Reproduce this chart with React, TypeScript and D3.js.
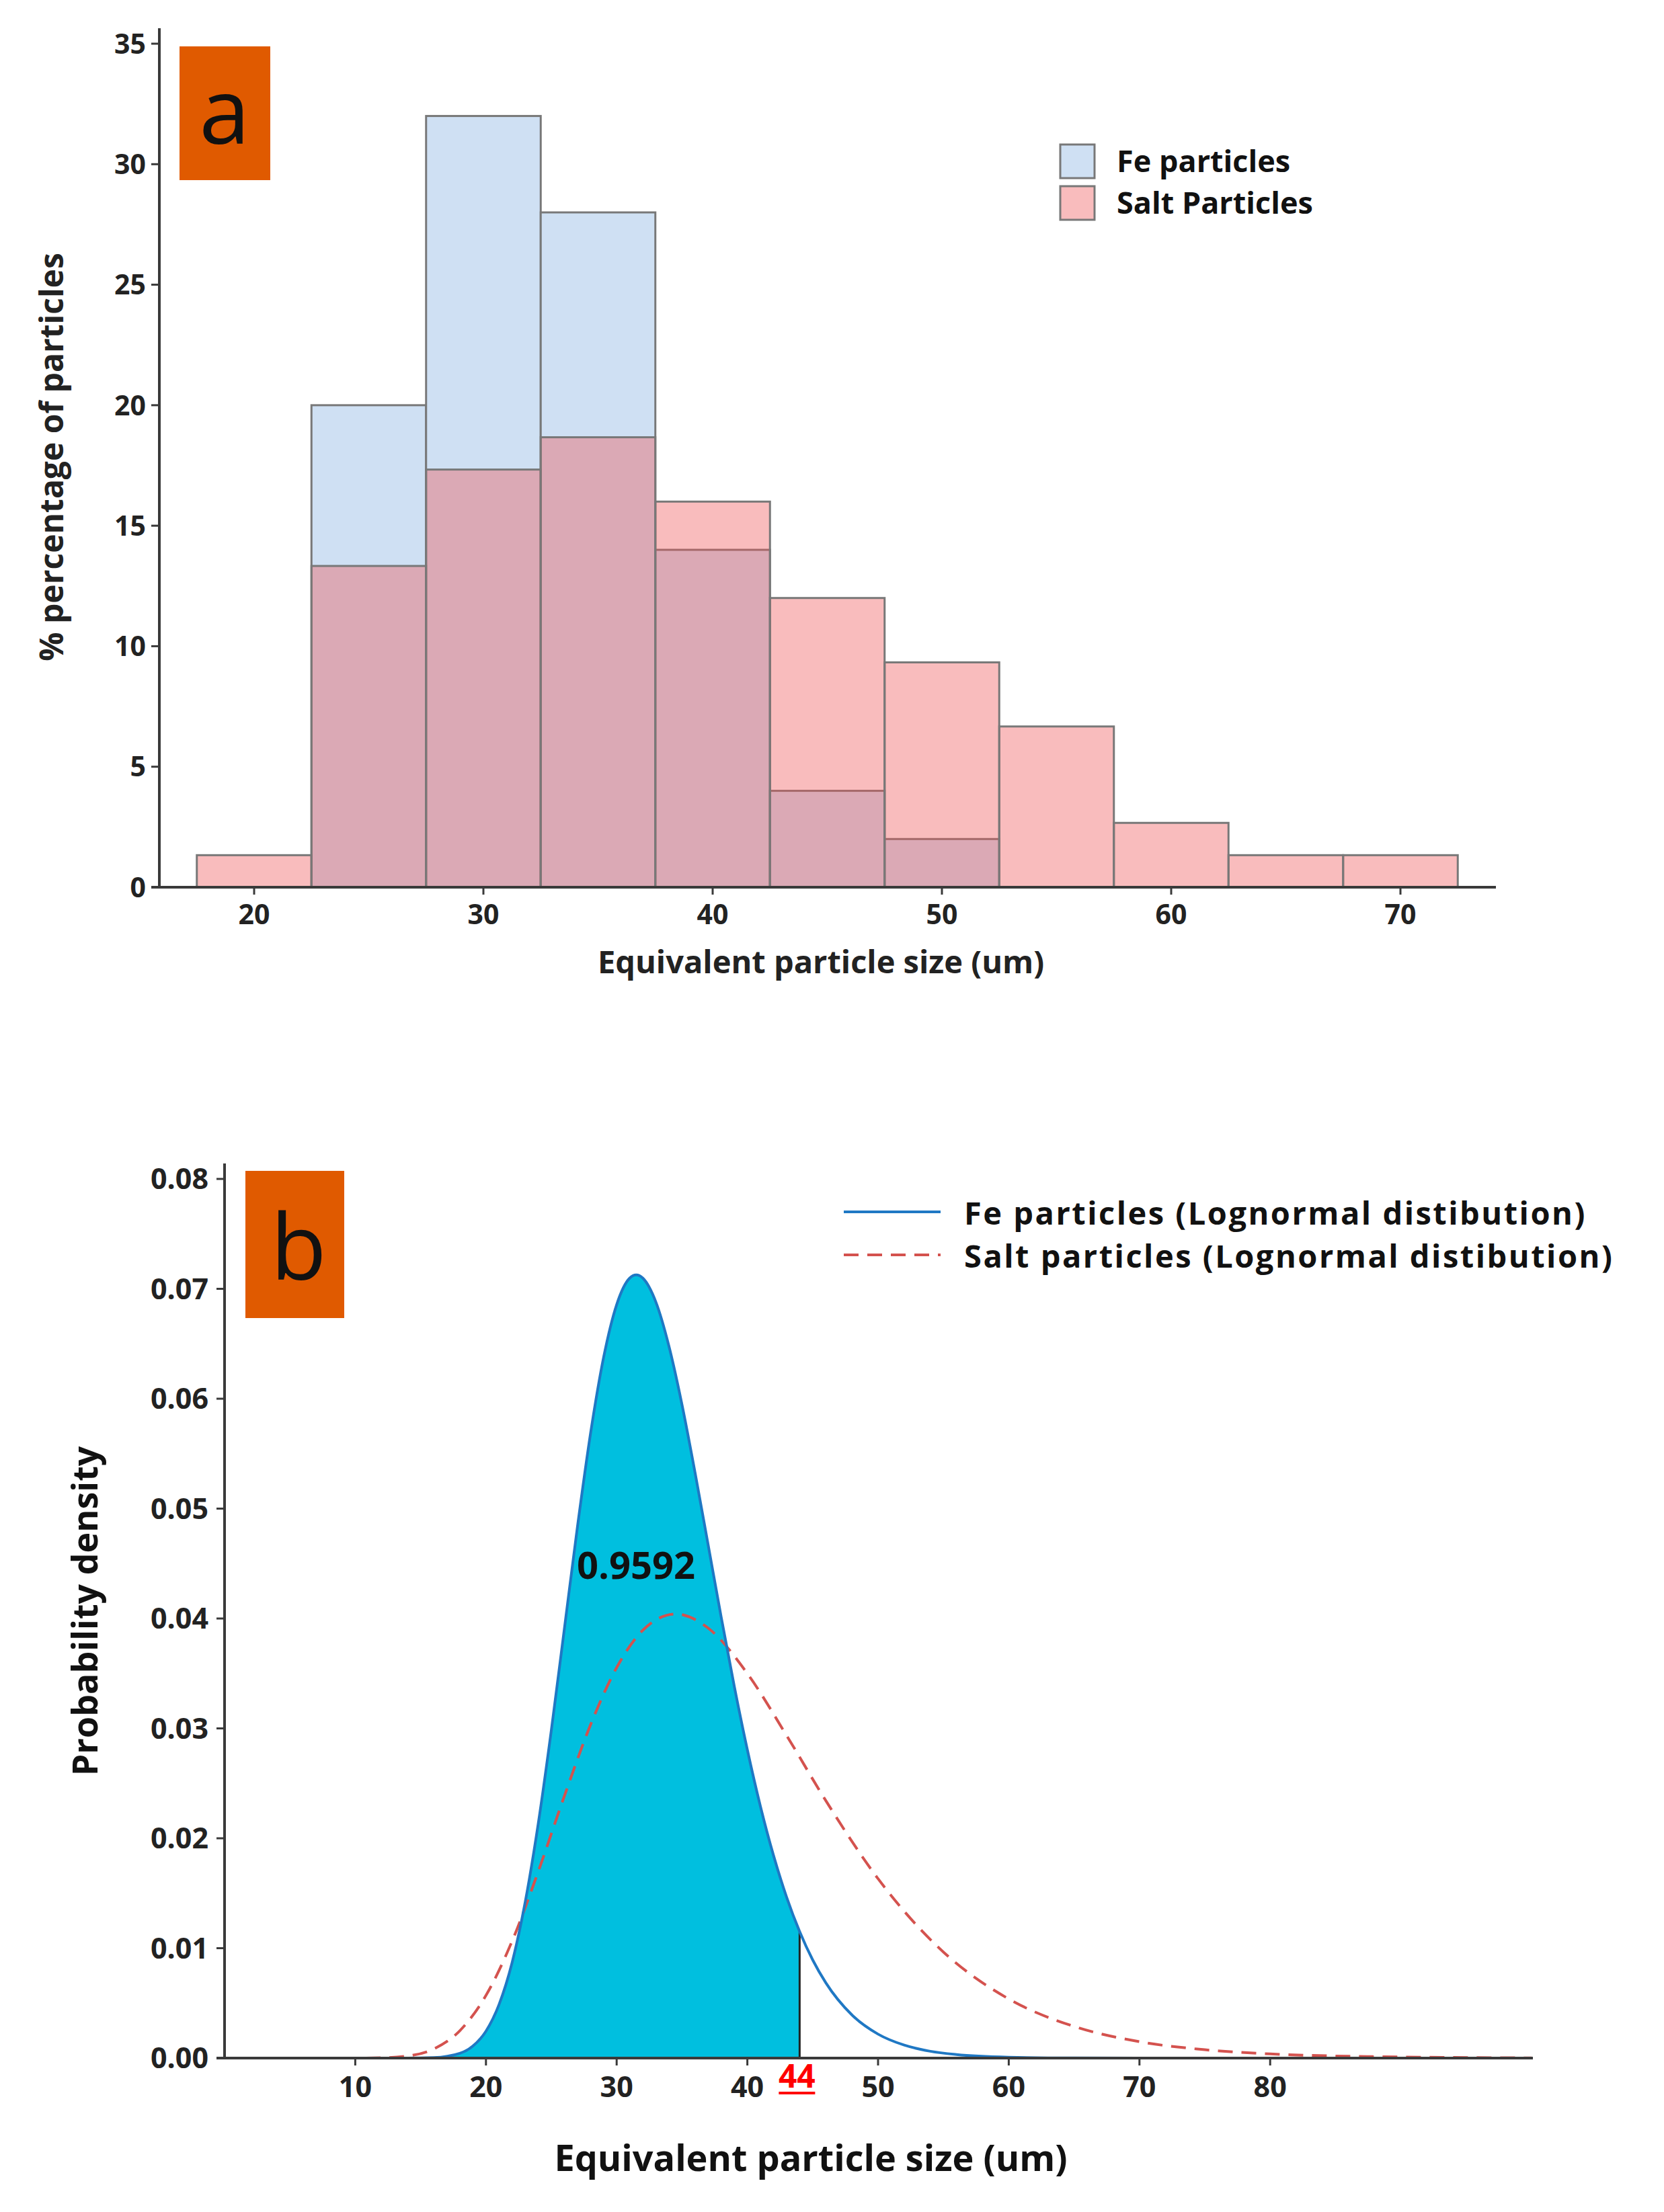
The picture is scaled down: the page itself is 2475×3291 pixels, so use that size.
import React from "react";
import * as d3 from "d3";

// ---------- Panel a: histogram data ----------
const binCenters = [20, 25, 30, 35, 40, 45, 50, 55, 60, 65, 70];
const binWidth = 5;
const fePercent = [0, 20, 32, 28, 14, 4, 2, 0, 0, 0, 0];
const saltPercent = [1.33, 13.33, 17.33, 18.67, 16, 12, 9.33, 6.67, 2.67, 1.33, 1.33];
const histYTicks = [0, 5, 10, 15, 20, 25, 30, 35];
const histXTicks = [20, 30, 40, 50, 60, 70];
const histLegend = ["Fe particles", "Salt Particles"];

// ---------- Panel b: density curves ----------
const feSize = [0, 10, 14, 16, 18, 19, 20, 21, 22, 23, 24, 25, 26, 27, 28, 29, 30, 31, 31.5, 32, 33, 34, 35, 36, 37, 38, 39, 40, 41, 42, 43, 44, 45, 46, 48, 50, 52, 54, 56, 60, 65, 70, 100];
const feDensity = [0, 0, 0.000002, 0.00004, 0.00043, 0.0011, 0.00245, 0.00487, 0.00869, 0.01418, 0.02132, 0.02981, 0.03907, 0.04835, 0.05683, 0.06375, 0.06856, 0.07098, 0.07127, 0.07098, 0.0688, 0.06479, 0.05946, 0.05327, 0.0467, 0.04012, 0.03383, 0.02806, 0.02291, 0.01845, 0.01466, 0.01151, 0.00893, 0.00686, 0.00393, 0.00218, 0.00118, 0.00062, 0.00032, 0.00008, 0.00001, 0, 0];
const saltSize = [0, 10, 12, 14, 16, 18, 20, 22, 24, 26, 28, 30, 32, 34.5, 37, 40, 43, 46, 50, 55, 60, 65, 70, 75, 80, 85, 90, 100];
const saltDensity = [0, 0.000002, 0.000026, 0.00019, 0.00083, 0.00249, 0.0057, 0.01064, 0.01697, 0.02385, 0.03032, 0.03553, 0.03893, 0.04041, 0.03913, 0.03499, 0.02936, 0.02343, 0.01632, 0.00965, 0.00538, 0.00288, 0.00149, 0.00076, 0.00038, 0.00019, 0.0001, 0.00002];
const pdfYTicks = [0, 0.01, 0.02, 0.03, 0.04, 0.05, 0.06, 0.07, 0.08];
const pdfXTicks = [10, 20, 30, 40, 50, 60, 70, 80];
const cutoffSize = 44;
const cutoffProbability = "0.9592";
const pdfLegend = ["Fe particles (Lognormal distibution)", "Salt particles (Lognormal distibution)"];

const FONT = "'Open Sans', 'DejaVu Sans', sans-serif";
const AXIS = "#3a3a3a";
const ORANGE = "#e05a00";
const FE_FILL = "#cfe0f3";
const SALT_FILL = "rgba(239,76,79,0.375)";
const EDGE = "#787878";

export default function App() {
  // ----- panel a scales -----
  const xA = d3.scaleLinear().domain([20, 70]).range([378, 2083]);
  const yA = d3.scaleLinear().domain([0, 35]).range([1320, 65]);
  const aLeft = 237;
  const aRight = 2225;

  // ----- panel b scales -----
  const xB = d3.scaleLinear().domain([0, 100]).range([334, 2278]);
  const yB = d3.scaleLinear().domain([0, 0.08]).range([3062, 1754]);

  const fePts = feSize.map((s, i) => [s, feDensity[i]] as [number, number]);
  const saltPts = saltSize.map((s, i) => [s, saltDensity[i]] as [number, number]);

  const line = d3
    .line<[number, number]>()
    .x((d) => xB(d[0]))
    .y((d) => yB(d[1]))
    .curve(d3.curveMonotoneX);
  const area = d3
    .area<[number, number]>()
    .x((d) => xB(d[0]))
    .y0(yB(0))
    .y1((d) => yB(d[1]))
    .curve(d3.curveMonotoneX);
  const fillPts = fePts.filter((d) => d[0] <= cutoffSize);
  const cutIdx = feSize.indexOf(cutoffSize);
  const cutDensity = feDensity[cutIdx];

  return (
    <svg
      width={2475}
      height={3291}
      viewBox="0 0 2475 3291"
      style={{ position: "absolute", left: 0, top: 0, background: "#fff" }}
      fontFamily={FONT}
    >
      <rect x={0} y={0} width={2475} height={3291} fill="#fff" />

      {/* ================= Panel a ================= */}
      {binCenters.map((c, i) =>
        fePercent[i] > 0 ? (
          <rect
            key={"fe" + i}
            x={xA(c - binWidth / 2)}
            y={yA(fePercent[i])}
            width={xA(c + binWidth / 2) - xA(c - binWidth / 2)}
            height={yA(0) - yA(fePercent[i])}
            fill={FE_FILL}
            stroke={EDGE}
            strokeWidth={3}
          />
        ) : null
      )}
      {binCenters.map((c, i) =>
        saltPercent[i] > 0 ? (
          <rect
            key={"salt" + i}
            x={xA(c - binWidth / 2)}
            y={yA(saltPercent[i])}
            width={xA(c + binWidth / 2) - xA(c - binWidth / 2)}
            height={yA(0) - yA(saltPercent[i])}
            fill={SALT_FILL}
            stroke={EDGE}
            strokeWidth={3}
          />
        ) : null
      )}
      {/* axes a */}
      <line x1={aLeft} x2={aLeft} y1={42} y2={yA(0)} stroke={AXIS} strokeWidth={4} />
      <line x1={aLeft - 12} x2={aRight} y1={yA(0)} y2={yA(0)} stroke={AXIS} strokeWidth={4} />
      {histYTicks.map((t) => (
        <g key={"ya" + t}>
          <line x1={aLeft - 12} x2={aLeft} y1={yA(t)} y2={yA(t)} stroke={AXIS} strokeWidth={3} />
          <text x={aLeft - 20} y={yA(t)} dy="0.36em" textAnchor="end" fontSize={41} fontWeight={700} fill="#222">
            {t}
          </text>
        </g>
      ))}
      {histXTicks.map((t) => (
        <g key={"xa" + t}>
          <line x1={xA(t)} x2={xA(t)} y1={yA(0)} y2={yA(0) + 11} stroke={AXIS} strokeWidth={3} />
          <text x={xA(t)} y={yA(0) + 55} textAnchor="middle" fontSize={41} fontWeight={700} fill="#222">
            {t}
          </text>
        </g>
      ))}
      <text x={1221} y={1448} textAnchor="middle" fontSize={47} fontWeight={700} fill="#222">
        Equivalent particle size (um)
      </text>
      <text
        transform={`translate(${94},${680}) rotate(-90)`}
        textAnchor="middle"
        fontSize={48}
        fontWeight={700}
        fill="#222"
      >
        % percentage of particles
      </text>
      {/* label a */}
      <rect x={267} y={69} width={135} height={199} fill={ORANGE} />
      <text x={334} y={214} textAnchor="middle" fontSize={136} fill="#111">
        a
      </text>
      {/* legend a */}
      {histLegend.map((lab, i) => (
        <g key={"la" + i}>
          <rect
            x={1577}
            y={215 + i * 62}
            width={51}
            height={50}
            fill={i === 0 ? FE_FILL : SALT_FILL}
            stroke={EDGE}
            strokeWidth={3}
          />
          <text x={1661} y={256 + i * 62} fontSize={45} fontWeight={700} fill="#111">
            {lab}
          </text>
        </g>
      ))}

      {/* ================= Panel b ================= */}
      <path d={area(fillPts) || ""} fill="#00bfdf" />
      <line
        x1={xB(cutoffSize)}
        x2={xB(cutoffSize)}
        y1={yB(0)}
        y2={yB(cutDensity)}
        stroke="#222"
        strokeWidth={3}
      />
      <path d={line(saltPts) || ""} fill="none" stroke="#d4524e" strokeWidth={4} strokeDasharray="22 13" />
      <path d={line(fePts) || ""} fill="none" stroke="#1f78c4" strokeWidth={4} />

      {/* axes b */}
      <line x1={334} x2={334} y1={1731} y2={yB(0)} stroke={AXIS} strokeWidth={4} />
      <line x1={334 - 12} x2={2280} y1={yB(0)} y2={yB(0)} stroke={AXIS} strokeWidth={4} />
      {pdfYTicks.map((t) => (
        <g key={"yb" + t}>
          <line x1={334 - 12} x2={334} y1={yB(t)} y2={yB(t)} stroke={AXIS} strokeWidth={3} />
          <text x={310} y={yB(t)} dy="0.36em" textAnchor="end" fontSize={43} fontWeight={700} fill="#222">
            {d3.format(".2f")(t)}
          </text>
        </g>
      ))}
      {pdfXTicks.map((t) => (
        <g key={"xb" + t}>
          <line x1={xB(t)} x2={xB(t)} y1={yB(0)} y2={yB(0) + 11} stroke={AXIS} strokeWidth={3} />
          <text x={xB(t)} y={yB(0) + 58} textAnchor="middle" fontSize={43} fontWeight={700} fill="#222">
            {t}
          </text>
        </g>
      ))}
      <text x={xB(cutoffSize) - 4} y={yB(0) + 44} textAnchor="middle" fontSize={48} fontWeight={700} fill="#ff0000">
        {cutoffSize}
      </text>
      <line
        x1={xB(cutoffSize) - 31}
        x2={xB(cutoffSize) + 23}
        y1={yB(0) + 52}
        y2={yB(0) + 52}
        stroke="#ff0000"
        strokeWidth={4}
      />
      <text x={946} y={2349} textAnchor="middle" fontSize={56} fontWeight={700} fill="#111">
        {cutoffProbability}
      </text>
      <text x={1206} y={3230} textAnchor="middle" fontSize={54} fontWeight={700} fill="#111">
        Equivalent particle size (um)
      </text>
      <text
        transform={`translate(${145},${2397}) rotate(-90)`}
        textAnchor="middle"
        fontSize={52}
        fontWeight={700}
        fill="#111"
      >
        Probability density
      </text>
      {/* label b */}
      <rect x={365} y={1742} width={147} height={219} fill={ORANGE} />
      <text x={444} y={1904} textAnchor="middle" fontSize={136} fill="#111">
        b
      </text>
      {/* legend b */}
      <line x1={1255} x2={1399} y1={1803} y2={1803} stroke="#1f78c4" strokeWidth={4} />
      <line x1={1255} x2={1399} y1={1867} y2={1867} stroke="#d4524e" strokeWidth={4} strokeDasharray="22 13" />
      {pdfLegend.map((lab, i) => (
        <text
          key={"lb" + i}
          x={1434}
          y={1822 + i * 64}
          fontSize={47}
          fontWeight={700}
          letterSpacing={2.5}
          fill="#111"
        >
          {lab}
        </text>
      ))}
    </svg>
  );
}
